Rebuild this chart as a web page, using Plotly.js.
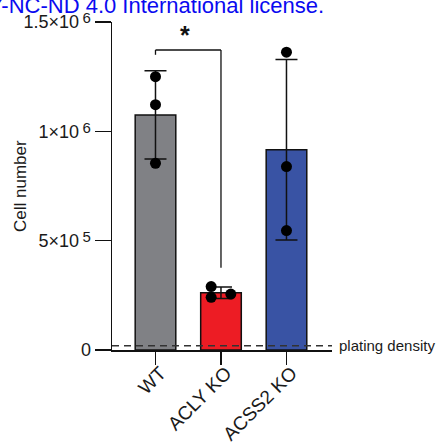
<!DOCTYPE html>
<html>
<head>
<meta charset="utf-8">
<script src="https://cdn.plot.ly/plotly-3.0.1.min.js"></script>
<style>html,body{margin:0;padding:0;background:#fff;overflow:hidden}</style>
</head>
<body>
<div id="chart" style="width:438px;height:442px"></div>
<script>
// ---- data ----
const categories = ["WT", "ACLY KO", "ACSS2 KO"];
const barMeans = [1.075e6, 0.262e6, 0.916e6];
const barSD = [0.202e6, 0.026e6, 0.413e6];
const barColors = ["#808185", "#ed1c24", "#3953a4"];
const pointsWT = [1.25e6, 1.122e6, 0.854e6];
const pointsACLY = [0.29e6, 0.241e6, 0.256e6];
const pointsACSS2 = [1.362e6, 0.839e6, 0.546e6];
const jitterACLY = [-0.15, -0.15, 0.15];
const platingDensity = 20000;
const yTickVals = [0, 5e5, 1e6, 1.5e6];
const yTickBase = ["0", "5×10", "1×10", "1.5×10"];
const yTickExp = ["", "5", "6", "6"];
const sigLabel = "*";

const idx = categories.map((c, i) => i);
const font = "Liberation Sans, Arial, sans-serif";
const yTickText = yTickBase.map((b, i) =>
  yTickExp[i] ? b + "<sup>\u00a0<sub><span style='font-size:15px'>" + yTickExp[i] + "</span></sub></sup>" : b);

const traces = [
  {
    type: "bar", x: idx, y: barMeans, width: 0.62,
    marker: {color: barColors, line: {color: "#111", width: 1.5}},
    error_y: {type: "data", array: barSD, visible: true, color: "#111", thickness: 1.5, width: 11},
    hoverinfo: "none", showlegend: false
  },
  {
    type: "scatter", mode: "markers",
    x: [0, 0, 0, 1 + jitterACLY[0], 1 + jitterACLY[1], 1 + jitterACLY[2], 2, 2, 2],
    y: pointsWT.concat(pointsACLY, pointsACSS2),
    marker: {color: "#000", size: 11},
    cliponaxis: false, hoverinfo: "none", showlegend: false
  }
];

const layout = {
  width: 438, height: 442,
  margin: {l: 112, r: 106, t: 22, b: 92},
  paper_bgcolor: "#fff", plot_bgcolor: "#fff",
  font: {family: font, color: "#1a1a1a", size: 15},
  xaxis: {
    range: [-0.664, 2.695], tickvals: idx, ticktext: categories,
    tickangle: -45, ticks: "outside", ticklen: 13, tickwidth: 1.5, tickcolor: "#111",
    showline: true, linecolor: "#111", linewidth: 1.5, showgrid: false, zeroline: false,
    tickfont: {size: 19, family: font}, ticklabelstandoff: -10, ticklabelshift: 5
  },
  yaxis: {
    range: [0, 1.5e6], tickvals: yTickVals, ticktext: yTickText,
    ticks: "outside", ticklen: 16, tickwidth: 1.5, tickcolor: "#111",
    showline: true, linecolor: "#111", linewidth: 1.5, showgrid: false, zeroline: false,
    tickfont: {size: 18, family: font}, ticklabelstandoff: 0
  },
  shapes: [
    {type: "line", xref: "paper", yref: "y", x0: 0, x1: 1, y0: platingDensity, y1: platingDensity,
     line: {color: "#333", width: 1.5, dash: "7px,5px"}, layer: "above"},
    {type: "line", xref: "x", yref: "y", x0: 0, x1: 1, y0: 1.372e6, y1: 1.372e6, line: {color: "#111", width: 1.3}},
    {type: "line", xref: "x", yref: "y", x0: 0, x1: 0, y0: 1.372e6, y1: 1.35e6, line: {color: "#111", width: 1.3}},
    {type: "line", xref: "x", yref: "y", x0: 1, x1: 1, y0: 1.372e6, y1: 0.376e6, line: {color: "#111", width: 1.3}}
  ],
  annotations: [
    {xref: "paper", yref: "paper", x: -0.418, y: 0.5, xanchor: "center", yanchor: "middle", textangle: -90,
     text: "Cell number", showarrow: false, font: {size: 17, family: font, color: "#1a1a1a"}},
    {xref: "paper", yref: "y", x: 1, y: platingDensity, xanchor: "left", yanchor: "middle", xshift: 5,
     text: "plating density", showarrow: false, font: {size: 15, family: font, color: "#1a1a1a"}},
    {xref: "x", yref: "y", x: 0.45, y: 1.44e6, xanchor: "center", yanchor: "middle",
     text: "<b>" + sigLabel + "</b>", showarrow: false, font: {size: 25, family: font, color: "#111"}},
    {xref: "paper", yref: "paper", x: 0.973, y: 1.006, xanchor: "right", yanchor: "bottom",
     text: "BY-NC-ND 4.0 International license.", showarrow: false,
     font: {size: 22, family: font, color: "#0a0af0"}}
  ]
};

Plotly.newPlot("chart", traces, layout, {displayModeBar: false, staticPlot: true});
</script>
</body>
</html>
